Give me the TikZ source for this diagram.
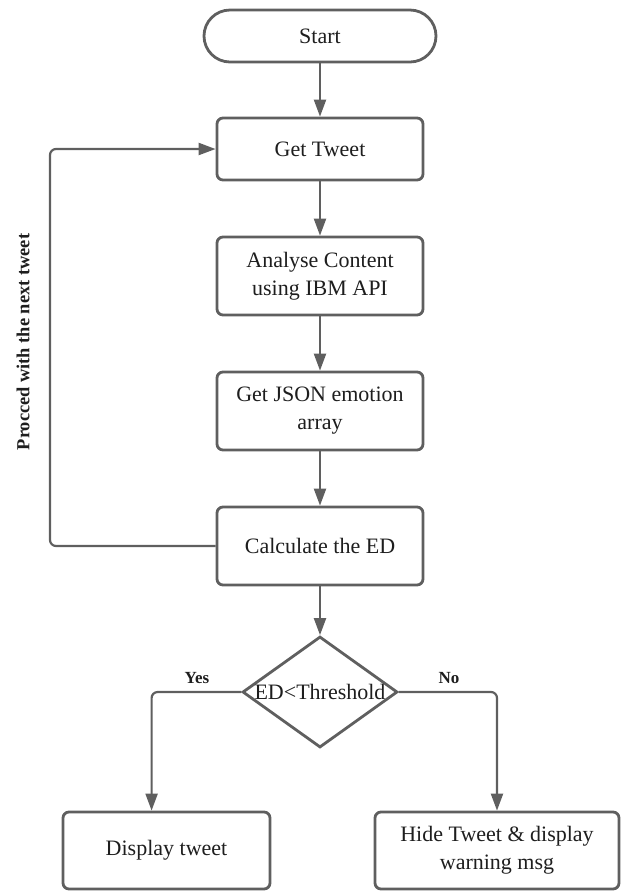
\documentclass[tikz,border=0pt]{standalone}
\usepackage{fontspec}
\setmainfont{Liberation Serif}
\usetikzlibrary{shapes.geometric,arrows.meta,calc}
\definecolor{ln}{HTML}{5F5F5F}
\definecolor{tx}{HTML}{1E1E1E}
\begin{document}
\begin{tikzpicture}[x=0.5pt,y=-0.5pt,
  box/.style={draw=ln, line width=1.4pt, rounded corners=3pt, fill=white, text=tx,
    align=center, minimum width=103pt, minimum height=39pt, inner sep=2pt,
    font=\fontsize{11}{14}\selectfont},
  term/.style={box, rounded corners=13pt, minimum width=116pt, minimum height=26pt},
  dec/.style={draw=ln, line width=1.4pt, diamond, fill=white, inner sep=0pt,
    minimum width=77.5pt, minimum height=55.5pt},
  arr/.style={draw=ln, line width=1.1pt, -{Triangle[length=8.5pt,width=6pt]}},
  lbl/.style={text=tx, font=\bfseries\fontsize{8.5}{10}\selectfont},
  txt/.style={text=tx, font=\fontsize{11}{14}\selectfont}
]
\useasboundingbox (0,0) rectangle (621,891);
\node[term] (start) at (320,36) {Start};
\node[box, minimum height=31pt] (get) at (320,149) {Get Tweet};
\node[box] (ana) at (320,276) {Analyse Content\\using IBM API};
\node[box] (json) at (320,411) {Get JSON emotion\\array};
\node[box] (calc) at (320,546) {Calculate the ED};
\node[dec] (d) at (320,692) {};
\node[txt] (dt) at (d) {ED<Threshold};
\node[box, minimum width=103.5pt, minimum height=38.5pt] (disp) at (166.5,850.5) {Display tweet};
\node[box, minimum width=122pt, minimum height=38.5pt] (hide) at (497,850.5) {Hide Tweet \& display\\warning msg};

\coordinate (lc) at (50,0);
\coordinate (yx) at ($(disp.north west)+(90,0)$);

\draw[arr] (start) -- (get);
\draw[arr] (get) -- (ana);
\draw[arr] (ana) -- (json);
\draw[arr] (json) -- (calc);
\draw[arr] (calc) -- (d);
\draw[arr, rounded corners=3pt] (calc.west) -- (calc.west -| lc) -- (get.west -| lc) -- (get.west);
\draw[arr, rounded corners=3pt] (d.west) -| (yx);
\draw[arr, rounded corners=3pt] (d.east) -| (hide.north);

\node[lbl] (yes) at (197,678) {Yes};
\node[lbl] (no) at (449,678) {No};
\node[lbl, font=\bfseries\fontsize{9.2}{10}\selectfont, rotate=90] (loop) at (23,342) {Procced with the next tweet};
\end{tikzpicture}
\end{document}
